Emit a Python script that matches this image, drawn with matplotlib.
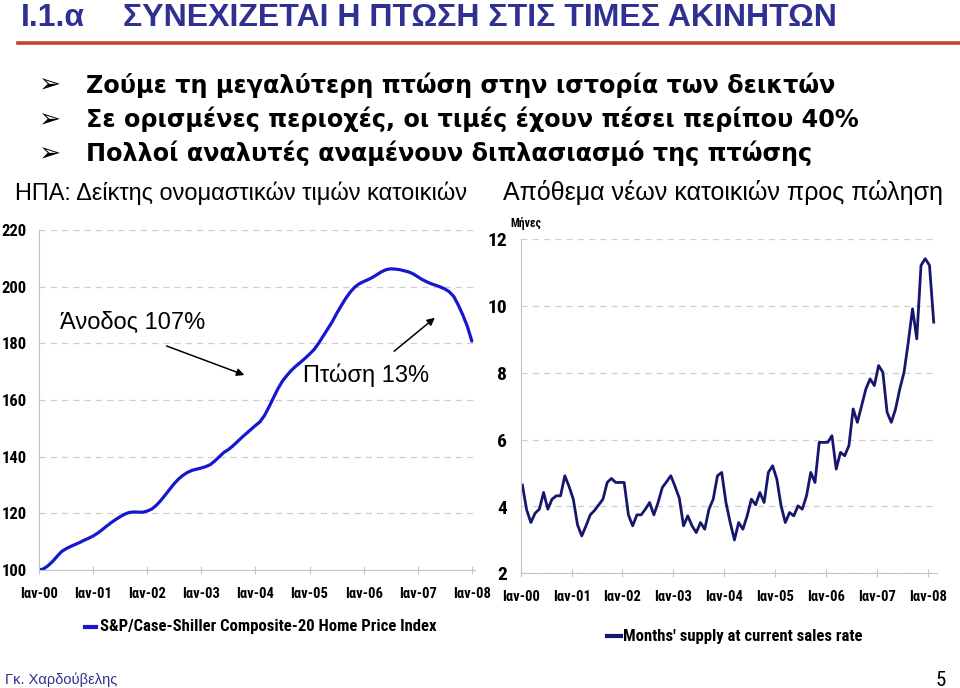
import matplotlib
matplotlib.use("Agg")
import matplotlib.pyplot as plt
from matplotlib.patches import FancyArrowPatch
from matplotlib import font_manager as fm
import numpy as np

# ---------------- data ----------------
tick_labels = ["Ιαν-00", "Ιαν-01", "Ιαν-02", "Ιαν-03", "Ιαν-04",
               "Ιαν-05", "Ιαν-06", "Ιαν-07", "Ιαν-08"]

# S&P/Case-Shiller Composite-20, monthly Jan-2000 .. Jan-2008
hpi = [100.0, 100.4, 101.5, 103.0, 104.8, 106.5, 107.5, 108.3, 109.0, 109.7, 110.5, 111.2,
       112.0, 113.0, 114.2, 115.5, 116.7, 117.8, 118.8, 119.7, 120.3, 120.5, 120.4, 120.4,
       120.8, 121.5, 122.8, 124.5, 126.5, 128.5, 130.5, 132.2, 133.5, 134.5, 135.2, 135.6,
       136.0, 136.5, 137.2, 138.5, 140.0, 141.5, 142.5, 143.8, 145.3, 146.8, 148.2, 149.6,
       151.0, 152.3, 154.5, 157.5, 160.8, 164.0, 166.7, 168.7, 170.5, 172.0, 173.3, 174.7,
       176.2, 177.8, 180.0, 182.5, 185.0, 187.5, 190.5, 193.2, 195.8, 198.0, 199.8, 201.0,
       201.8, 202.5, 203.3, 204.3, 205.3, 206.0, 206.3, 206.2, 206.0, 205.6, 205.2, 204.5,
       203.5, 202.5, 201.7, 201.0, 200.5, 199.9, 199.2, 198.2, 196.5, 193.5, 190.0, 186.0,
       180.8]

# Months' supply of new homes, monthly Jan-2000 .. Feb-2008
supply = [4.64, 3.90, 3.52, 3.80, 3.92, 4.42, 3.92, 4.22, 4.32, 4.32, 4.92, 4.60,
          4.22, 3.45, 3.12, 3.42, 3.75, 3.88, 4.05, 4.22, 4.72, 4.84, 4.72, 4.72,
          4.72, 3.75, 3.42, 3.75, 3.75, 3.92, 4.12, 3.75, 4.12, 4.57, 4.74, 4.92,
          4.60, 4.25, 3.42, 3.72, 3.42, 3.22, 3.52, 3.32, 3.92, 4.22, 4.92, 5.02,
          4.12, 3.52, 3.00, 3.52, 3.32, 3.72, 4.22, 4.05, 4.42, 4.12, 5.02, 5.22,
          4.82, 4.02, 3.52, 3.82, 3.72, 4.02, 3.92, 4.32, 5.02, 4.72, 5.92, 5.92,
          5.92, 6.12, 5.12, 5.62, 5.52, 5.82, 6.92, 6.52, 7.02, 7.52, 7.82, 7.62,
          8.22, 8.02, 6.82, 6.52, 6.92, 7.52, 8.02, 8.92, 9.92, 9.02, 11.22, 11.42,
          11.22, 9.52]

left_yticks = [100, 120, 140, 160, 180, 200, 220]
right_yticks = [2, 4, 6, 8, 10, 12]

# ---------------- fonts ----------------
names = {f.name for f in fm.fontManager.ttflist}
NARROW = "Roboto Condensed" if "Roboto Condensed" in names else "DejaVu Sans"
ARIAL = "Liberation Sans"
WIDE = "DejaVu Sans"

W, H = 960, 688
fig = plt.figure(figsize=(9.6, 6.88), dpi=100)
fig.patch.set_facecolor("white")


def fx(x):
    return x / W


def fy(y):
    return 1 - y / H


BLUE_T = "#2E3192"
LEFT_C = "#1717CF"
RIGHT_C = "#16166E"
GRID_C = "#CFCFCF"
AX_C = "#C4C4C4"

# ---------------- title ----------------
fig.text(fx(21), fy(26.5), "I.1.α", color=BLUE_T, fontsize=23, fontweight="bold",
         family=ARIAL, va="baseline", ha="left")
fig.text(fx(123), fy(26.5), "ΣΥΝΕΧΙΖΕΤΑΙ Η ΠΤΩΣΗ ΣΤΙΣ ΤΙΜΕΣ ΑΚΙΝΗΤΩΝ", color=BLUE_T,
         fontsize=23, fontweight="bold", family=ARIAL, va="baseline", ha="left")
fig.add_artist(plt.Line2D([fx(18), fx(960)], [fy(42.5), fy(42.5)], color="#C0482A",
                          lw=2.6, transform=fig.transFigure))

# ---------------- bullets ----------------
bullets = ["Ζούμε τη μεγαλύτερη πτώση στην ιστορία των δεικτών",
           "Σε ορισμένες περιοχές, οι τιμές έχουν πέσει περίπου 40%",
           "Πολλοί αναλυτές αναμένουν διπλασιασμό της πτώσης"]
for i, b in enumerate(bullets):
    yb = 92.5 + 34.5 * i
    fig.text(fx(38), fy(yb), "➢", fontsize=19, family=WIDE, va="baseline", ha="left",
             color="black")
    fig.text(fx(86), fy(yb), b, fontsize=17.2, fontweight="bold", family=WIDE,
             va="baseline", ha="left", color="black")

# ---------------- sub headings ----------------
fig.text(fx(15), fy(200), "ΗΠΑ: Δείκτης ονομαστικών τιμών κατοικιών", fontsize=16.9,
         family=ARIAL, va="baseline", ha="left", color="black")
fig.text(fx(943), fy(200), "Απόθεμα νέων κατοικιών προς πώληση", fontsize=18,
         family=ARIAL, va="baseline", ha="right", color="black")

# ---------------- left chart ----------------
axL = fig.add_axes([fx(39), fy(570), (475 - 39) / W, 340 / H])
mL = np.arange(len(hpi))
axL.plot(mL, hpi, color=LEFT_C, lw=2.3, solid_capstyle="round")
axL.set_xlim(0, 96.7)
axL.set_ylim(100, 220)
axL.set_yticks(left_yticks)
axL.set_xticks(np.arange(0, 97, 12))
axL.set_xticklabels(tick_labels)
for lab in axL.get_yticklabels():
    lab.set_fontsize(12); lab.set_fontweight("bold"); lab.set_family(NARROW)
for lab in axL.get_xticklabels():
    lab.set_fontsize(10.5); lab.set_fontweight("bold"); lab.set_family(NARROW)
axL.tick_params(axis="y", length=0, pad=9)
axL.tick_params(axis="x", length=6, direction="inout", color=AX_C, pad=9)
for s in ["top", "right"]:
    axL.spines[s].set_visible(False)
for s in ["left", "bottom"]:
    axL.spines[s].set_color(AX_C)
axL.grid(axis="y", color=GRID_C, ls=(0, (5, 4)), lw=0.9)
axL.set_axisbelow(True)
axL.set_facecolor("none")

# annotations
fig.text(fx(60), fy(329), "Άνοδος 107%", fontsize=17, family=ARIAL, va="baseline",
         ha="left", color="black")
fig.text(fx(303), fy(382), "Πτώση 13%", fontsize=17, family=ARIAL, va="baseline",
         ha="left", color="black")
fig.add_artist(FancyArrowPatch(
    (fx(164), fy(345)), (fx(247), fy(376)), transform=fig.transFigure,
    arrowstyle="-|>", mutation_scale=11, lw=1.1, color="black"))
fig.add_artist(FancyArrowPatch(
    (fx(392), fy(353)), (fx(437), fy(316)), transform=fig.transFigure,
    arrowstyle="-|>", mutation_scale=11, lw=1.1, color="black"))

# legend left
fig.add_artist(plt.Line2D([fx(85), fx(96)], [fy(627), fy(627)], color=LEFT_C, lw=3,
                          transform=fig.transFigure))
fig.text(fx(100), fy(627), "S&P/Case-Shiller Composite-20 Home Price Index",
         fontsize=12, fontweight="bold", family=NARROW, va="center", ha="left")

# ---------------- right chart ----------------
axR = fig.add_axes([fx(520.7), fy(573.3), 416 / W, 334 / H])
mR = np.arange(len(supply)) + 0.4
axR.plot(mR, supply, color=RIGHT_C, lw=2.0)
axR.set_xlim(0, 98.1)
axR.set_ylim(2, 12)
axR.set_yticks(right_yticks)
axR.set_xticks(np.arange(0, 97, 12))
axR.set_xticklabels(tick_labels)
for lab in axR.get_yticklabels():
    lab.set_fontsize(14); lab.set_fontweight("bold"); lab.set_family(NARROW)
for lab in axR.get_xticklabels():
    lab.set_fontsize(10.5); lab.set_fontweight("bold"); lab.set_family(NARROW)
axR.tick_params(axis="y", length=0, pad=10)
axR.tick_params(axis="x", length=6, direction="inout", color=AX_C, pad=9)
for s in ["top", "right"]:
    axR.spines[s].set_visible(False)
for s in ["left", "bottom"]:
    axR.spines[s].set_color(AX_C)
axR.grid(axis="y", color=GRID_C, ls=(0, (5, 4)), lw=0.9)
axR.set_axisbelow(True)
axR.set_facecolor("none")

fig.text(fx(510), fy(224), "Μήνες", fontsize=8.5, fontweight="bold", family=NARROW,
         va="center", ha="left")

fig.add_artist(plt.Line2D([fx(607), fx(621)], [fy(636), fy(636)], color=RIGHT_C, lw=3,
                          transform=fig.transFigure))
fig.text(fx(623), fy(636), "Months' supply at current sales rate",
         fontsize=12, fontweight="bold", family=NARROW, va="center", ha="left")

# ---------------- footer ----------------
fig.text(fx(5), fy(680), "Γκ. Χαρδούβελης", fontsize=10.5, family=ARIAL, color=BLUE_T,
         va="center", ha="left")
fig.text(fx(946), fy(680), "5", fontsize=15, family=NARROW, color="black",
         va="center", ha="right")

fig.savefig("out.png", dpi=100, facecolor="white")
